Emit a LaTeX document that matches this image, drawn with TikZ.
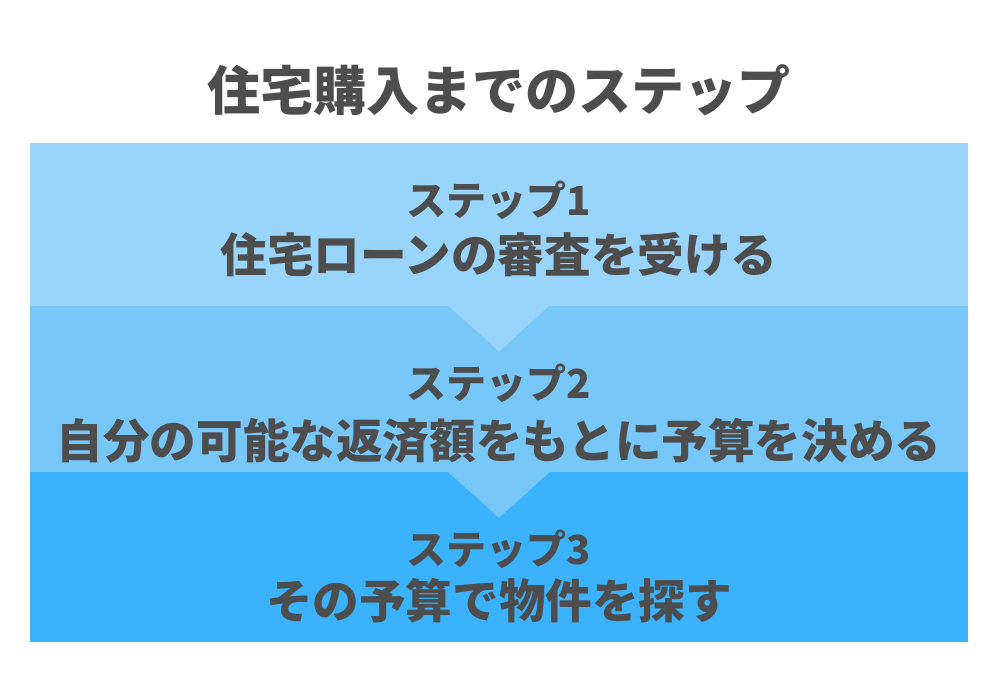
\documentclass[tikz,border=0pt]{standalone}
\usepackage{fontspec}
\setmainfont{Noto Sans CJK JP}
\usepackage{tikz}
\usetikzlibrary{positioning}
\definecolor{inkgray}{HTML}{4D4D4D}
\definecolor{blueA}{HTML}{99D4FA}
\definecolor{blueB}{HTML}{78C7F9}
\definecolor{blueC}{HTML}{3AB2FC}
\tikzstyle{stepbox}=[
   rectangle,
   inner sep=0pt,
   minimum width=938pt,
   anchor=north
]
\tikzstyle{steplabel}=[
   text=inkgray,
   font=\bfseries\fontsize{40}{40}\selectfont,
   inner sep=0pt
]
\tikzstyle{steptext}=[
   text=inkgray,
   font=\bfseries\fontsize{46.6}{46.6}\selectfont,
   inner sep=0pt
]

\begin{document}
\begin{tikzpicture}[x=1pt,y=-1pt,node distance=-1pt]
  \useasboundingbox (0,0) rectangle (998,696);

  \node[text=inkgray,font=\bfseries\fontsize{53}{53}\selectfont,inner sep=0pt] (title) at (499,90) {住宅購入までのステップ};

  \node[stepbox,fill=blueA,minimum height=163pt] (b1) at (499,143) {};
  \node[stepbox,fill=blueB,minimum height=167pt] (b2) [below=of b1] {};
  \node[stepbox,fill=blueC,minimum height=170pt] (b3) [below=of b2] {};

  % arrows between the steps
  \fill[blueA] ([xshift=-51pt,yshift=1pt]b1.south) -- ([xshift=51pt,yshift=1pt]b1.south) -- ([yshift=-45pt]b1.south) -- cycle;
  \fill[blueB] ([xshift=-51pt,yshift=1pt]b2.south) -- ([xshift=51pt,yshift=1pt]b2.south) -- ([yshift=-45pt]b2.south) -- cycle;

  \node[steplabel] (l1) at ([yshift=-57pt]b1.north) {ステップ1};
  \node[steptext]  (t1) at ([yshift=-112pt]b1.north) {住宅ローンの審査を受ける};

  \node[steplabel] (l2) at ([yshift=-78pt]b2.north) {ステップ2};
  \node[steptext]  (t2) at ([yshift=-135pt]b2.north) {自分の可能な返済額をもとに予算を決める};

  \node[steplabel] (l3) at ([yshift=-77pt]b3.north) {ステップ3};
  \node[steptext]  (t3) at ([yshift=-129pt]b3.north) {その予算で物件を探す};

\end{tikzpicture}
\end{document}
